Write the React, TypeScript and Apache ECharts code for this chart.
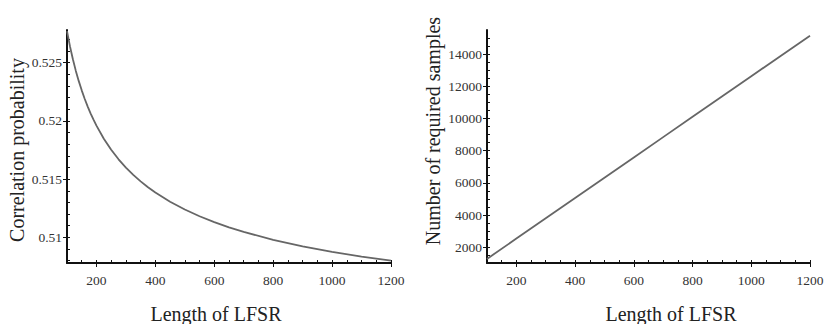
import React, { useEffect, useRef } from "react";
import * as echarts from "echarts";

const lengths = [100, 110, 120, 130, 140, 150, 160, 170, 180, 190, 200, 225, 250, 275, 300, 325, 350, 375, 400, 450, 500, 550, 600, 650, 700, 800, 900, 1000, 1100, 1200];
const corrProb = [0.5277, 0.52641, 0.52529, 0.52429, 0.52341, 0.52262, 0.5219, 0.52125, 0.52065, 0.5201, 0.51959, 0.51847, 0.51752, 0.5167, 0.51599, 0.51536, 0.51481, 0.5143, 0.51385, 0.51306, 0.51239, 0.51181, 0.51131, 0.51086, 0.51047, 0.50979, 0.50923, 0.50876, 0.50835, 0.508];

const sampleLengths = [100, 200, 300, 400, 500, 600, 700, 800, 900, 1000, 1100, 1200];
const requiredSamples = [1280, 2540, 3800, 5060, 6320, 7580, 8840, 10100, 11360, 12620, 13880, 15140];

const xTickLabels = [200, 400, 600, 800, 1000, 1200];
const xMinorTicks = [150, 200, 250, 300, 350, 400, 450, 500, 550, 600, 650, 700, 750, 800, 850, 900, 950, 1000, 1050, 1100, 1150, 1200];
const probTickLabels = [0.51, 0.515, 0.52, 0.525];
const probMinorTicks = [0.508, 0.509, 0.51, 0.511, 0.512, 0.513, 0.514, 0.515, 0.516, 0.517, 0.518, 0.519, 0.52, 0.521, 0.522, 0.523, 0.524, 0.525, 0.526, 0.527];
const sampleTickLabels = [2000, 4000, 6000, 8000, 10000, 12000, 14000];
const sampleMinorTicks = [1500, 2000, 2500, 3000, 3500, 4000, 4500, 5000, 5500, 6000, 6500, 7000, 7500, 8000, 8500, 9000, 9500, 10000, 10500, 11000, 11500, 12000, 12500, 13000, 13500, 14000, 14500, 15000];

const FONT = "Liberation Serif";

function majorAxis(min: number, max: number, labels: number[], gridIndex: number, isX: boolean, margin: number) {
  return {
    type: "value",
    gridIndex,
    min,
    max,
    position: isX ? "bottom" : "left",
    splitLine: { show: false },
    axisLine: { show: true, lineStyle: { color: "#111", width: 2 } },
    axisTick: { show: true, inside: false, length: 4, customValues: labels, lineStyle: { color: "#111", width: 1 } },
    axisLabel: {
      show: true,
      customValues: labels,
      margin,
      formatter: (v: number) => `{t|${v}}`,
      rich: { t: { color: "#333", fontFamily: FONT, fontSize: 13.5 } },
      color: "#333",
      fontFamily: FONT,
      fontSize: 13.5,
    },
  };
}

function minorAxis(min: number, max: number, ticks: number[], gridIndex: number, isX: boolean) {
  return {
    type: "value",
    gridIndex,
    min,
    max,
    position: isX ? "bottom" : "left",
    splitLine: { show: false },
    axisLine: { show: false },
    axisTick: { show: true, inside: true, length: 3, customValues: ticks, lineStyle: { color: "#111", width: 1 } },
    axisLabel: { show: false },
  };
}

export default function App() {
  const ref = useRef<HTMLDivElement>(null);
  useEffect(() => {
    if (!ref.current) return;
    const chart = echarts.init(ref.current, undefined, { renderer: "svg" });
    const lineStyle = { color: "#666", width: 1.8 };
    chart.setOption({
      animation: false,
      backgroundColor: "#fff",
      textStyle: { fontFamily: FONT },
      grid: [
        { left: 67, top: 30, width: 324, height: 233 },
        { left: 487, top: 30, width: 323, height: 233 },
      ],
      xAxis: [
        majorAxis(100, 1200, xTickLabels, 0, true, 10),
        minorAxis(100, 1200, xMinorTicks, 0, true),
        majorAxis(100, 1200, xTickLabels, 1, true, 10),
        minorAxis(100, 1200, xMinorTicks, 1, true),
      ],
      yAxis: [
        majorAxis(0.5078, 0.5278, probTickLabels, 0, false, 5),
        minorAxis(0.5078, 0.5278, probMinorTicks, 0, false),
        majorAxis(1025, 15490, sampleTickLabels, 1, false, 5),
        minorAxis(1025, 15490, sampleMinorTicks, 1, false),
      ],
      series: [
        {
          type: "line",
          xAxisIndex: 0,
          yAxisIndex: 0,
          data: lengths.map((n, i) => [n, corrProb[i]]),
          showSymbol: false,
          lineStyle,
        },
        {
          type: "line",
          xAxisIndex: 2,
          yAxisIndex: 2,
          data: sampleLengths.map((n, i) => [n, requiredSamples[i]]),
          showSymbol: false,
          lineStyle,
        },
      ],
      graphic: [
        {
          type: "text",
          x: 216,
          y: 314,
          style: { text: "Length of LFSR", fontFamily: FONT, fontSize: 20, fill: "#222", textAlign: "center", textVerticalAlign: "middle" },
        },
        {
          type: "text",
          x: 671,
          y: 314,
          style: { text: "Length of LFSR", fontFamily: FONT, fontSize: 20, fill: "#222", textAlign: "center", textVerticalAlign: "middle" },
        },
        {
          type: "text",
          x: 17,
          y: 150,
          rotation: Math.PI / 2,
          style: { text: "Correlation probability", fontFamily: FONT, fontSize: 20, fill: "#222", textAlign: "center", textVerticalAlign: "middle" },
        },
        {
          type: "text",
          x: 433,
          y: 131,
          rotation: Math.PI / 2,
          style: { text: "Number of required samples", fontFamily: FONT, fontSize: 20, fill: "#222", textAlign: "center", textVerticalAlign: "middle" },
        },
      ],
    });
    return () => chart.dispose();
  }, []);
  return <div ref={ref} style={{ position: "fixed", left: 0, top: 0, width: 830, height: 324 }} />;
}
